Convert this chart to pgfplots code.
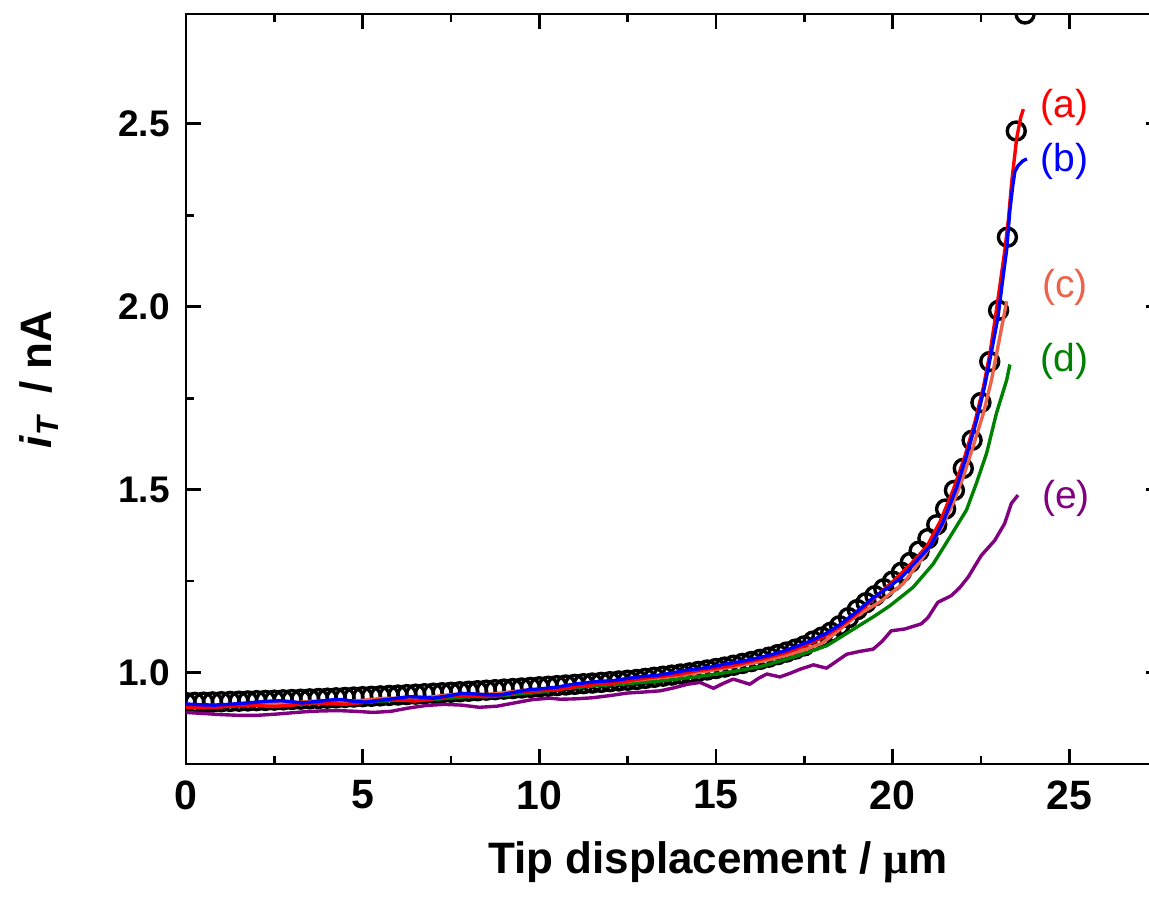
\documentclass[border=0pt]{standalone}
\usepackage{fontspec}
\setmainfont{Liberation Sans}
\newfontfamily\mufont{Liberation Serif}
\usepackage{pgfplots}
\pgfplotsset{compat=1.18}
\definecolor{cA}{RGB}{255,0,0}
\definecolor{cB}{RGB}{0,0,255}
\definecolor{cC}{RGB}{236,98,74}
\definecolor{cD}{RGB}{0,128,0}
\definecolor{cE}{RGB}{128,0,128}
\begin{document}
\begin{tikzpicture}
\begin{axis}[
  name=ax, at={(0,0)}, anchor=south west,
  scale only axis, width=487.55pt, height=375pt,
  xmin=0, xmax=27.6, ymin=0.75, ymax=2.8,
  xtick={0,5,10,15,20,25}, ytick={1.0,1.5,2.0,2.5},
  minor x tick num=1, minor y tick num=1,
  tick align=inside, major tick length=7.5pt, minor tick length=4pt,
  axis line style={line width=1.4pt},
  tick style={black, line width=1.4pt},
  /pgf/number format/assume math mode=true,
  xticklabel style={font=\fontsize{20.5}{24}\selectfont\bfseries, inner sep=0pt, yshift=-8pt},
  yticklabel style={font=\fontsize{18.5}{22}\selectfont\bfseries, inner sep=0pt, xshift=-8pt},
  y tick label style={/pgf/number format/.cd, fixed, fixed zerofill, precision=1, /tikz/.cd},
  xlabel={Tip displacement / {\mufont μ}m},
  xlabel style={font=\fontsize{22}{25}\selectfont\bfseries, at={(axis description cs:0.5456,0)}, anchor=base, yshift=-54.5pt, inner sep=0pt},
  ylabel={\textit{i}\textsubscript{\textit{T}}\hspace{0.45em}/ nA},
  ylabel style={font=\fontsize{22}{25}\selectfont\bfseries, at={(axis description cs:0,0.513)}, anchor=base, yshift=67pt, inner sep=0pt},
  clip marker paths=true,
]
% theory (open circles)
\addplot[only marks, mark=o, mark size=4.5pt, mark options={line width=1.7pt, draw=black}] coordinates {
(0,0.918) (0.25,0.9185) (0.5,0.9191) (0.75,0.9197) (1,0.9203) (1.25,0.9210) (1.5,0.9217) (1.75,0.9224)
(2,0.9231) (2.25,0.9238) (2.5,0.9246) (2.75,0.9254) (3,0.9263) (3.25,0.9271) (3.5,0.9280) (3.75,0.9290)
(4,0.9299) (4.25,0.9309) (4.5,0.9319) (4.75,0.9330) (5,0.9340) (5.25,0.9351) (5.5,0.9362) (5.75,0.9374)
(6,0.9385) (6.25,0.9397) (6.5,0.9409) (6.75,0.9422) (7,0.9435) (7.25,0.9448) (7.5,0.9461) (7.75,0.9475)
(8,0.9489) (8.25,0.9503) (8.5,0.9518) (8.75,0.9532) (9,0.9547) (9.25,0.9562) (9.5,0.9578) (9.75,0.9594)
(10,0.9610) (10.25,0.9626) (10.5,0.9643) (10.75,0.9660) (11,0.9677) (11.25,0.9695) (11.5,0.9713) (11.75,0.9731)
(12,0.9750) (12.25,0.9770) (12.5,0.979) (12.75,0.981) (13,0.984) (13.25,0.987) (13.5,0.990) (13.75,0.993)
(14,0.996) (14.25,0.999) (14.5,1.003) (14.75,1.007) (15,1.011) (15.25,1.015) (15.5,1.020) (15.75,1.025)
(16,1.030) (16.25,1.036) (16.5,1.042) (16.75,1.049) (17,1.056) (17.25,1.064) (17.5,1.073) (17.75,1.086)
(18,1.097) (18.25,1.110) (18.5,1.128) (18.75,1.150) (19,1.172) (19.25,1.191) (19.5,1.210) (19.75,1.229)
(20,1.250) (20.25,1.274) (20.5,1.301) (20.75,1.332) (21,1.366) (21.25,1.404) (21.5,1.447) (21.75,1.498)
(22,1.558) (22.25,1.635) (22.5,1.738) (22.75,1.850) (23,1.990) (23.25,2.190) (23.5,2.480) (23.75,2.800)
};
% (e) purple
\addplot[cE, line width=1.7pt, line join=round] coordinates {
(0,0.891) (0.5,0.888) (1.0,0.885) (1.5,0.883) (2.0,0.883) (2.5,0.886) (3.0,0.890) (3.4,0.893)
(3.8,0.895) (4.3,0.896) (4.8,0.894) (5.3,0.891) (5.8,0.894) (6.3,0.903) (6.8,0.910) (7.3,0.913)
(7.8,0.911) (8.3,0.905) (8.8,0.908) (9.3,0.917) (9.8,0.926) (10.3,0.930) (10.6,0.927) (11.0,0.928)
(11.5,0.931) (12.0,0.937) (12.5,0.944) (13.0,0.947) (13.42,0.950) (13.8,0.958) (14.2,0.968) (14.55,0.973)
(14.93,0.957) (15.2,0.970) (15.49,0.982) (15.96,0.968) (16.2,0.984) (16.44,0.996) (16.81,0.988) (17.1,0.998)
(17.38,1.009) (17.76,1.021) (18.13,1.012) (18.4,1.030) (18.70,1.050) (19.08,1.058) (19.45,1.064) (19.7,1.085)
(19.96,1.114) (20.34,1.119) (20.81,1.133) (21.0,1.150) (21.28,1.192) (21.66,1.210) (21.9,1.232) (22.14,1.261)
(22.51,1.320) (22.89,1.361) (23.17,1.407) (23.36,1.462) (23.55,1.485)
};
% (d) green
\addplot[cD, line width=1.7pt, line join=round] coordinates {
(0,0.907) (0.5,0.906) (1,0.907) (1.5,0.909) (2,0.911) (2.5,0.911) (3,0.912) (3.5,0.915)
(4,0.917) (4.5,0.917) (5,0.918) (5.5,0.922) (6,0.924) (6.5,0.924) (7,0.926) (7.5,0.931)
(8,0.934) (8.5,0.934) (9,0.937) (9.5,0.943) (10,0.946) (10.59,0.955) (11.5,0.963) (12.5,0.970)
(13.42,0.977) (14.5,0.989) (15.5,1.003) (16.25,1.016) (17.19,1.042) (18.13,1.073) (18.5,1.095) (19.0,1.125)
(19.5,1.155) (19.93,1.183) (20.58,1.233) (21.15,1.297) (21.62,1.370) (22.09,1.444) (22.37,1.517) (22.66,1.599)
(22.94,1.709) (23.23,1.800) (23.32,1.842)
};
% (c) salmon
\addplot[cC, line width=1.7pt, line join=round] coordinates {
(0,0.910) (0.5,0.909) (1,0.911) (1.5,0.914) (2,0.915) (2.5,0.914) (3,0.917) (3.5,0.921)
(4,0.921) (4.5,0.920) (5,0.924) (5.5,0.929) (6,0.930) (6.5,0.929) (7,0.934) (7.5,0.940)
(8,0.941) (8.5,0.940) (9,0.945) (9.5,0.951) (10,0.953) (10.5,0.957) (11,0.963) (11.5,0.967)
(12,0.971) (12.5,0.976) (13,0.982) (13.5,0.987) (14,0.993) (14.5,1.000) (15,1.008) (15.5,1.016)
(16,1.025) (16.5,1.035) (17,1.047) (17.5,1.062) (18,1.080) (18.51,1.118) (18.98,1.155) (19.64,1.193)
(20.30,1.243) (20.87,1.316) (21.34,1.389) (21.71,1.462) (22.00,1.535) (22.28,1.618) (22.57,1.709) (22.80,1.800)
(23.0,1.900) (23.23,2.015)
};
% (a) red
\addplot[cA, line width=1.7pt, line join=round] coordinates {
(0,0.905) (0.5,0.904) (1.0,0.906) (1.5,0.910) (2.0,0.910) (2.5,0.907) (3.0,0.911) (3.5,0.917)
(4.0,0.916) (4.5,0.913) (5.0,0.918) (5.5,0.925) (6.0,0.925) (6.5,0.922) (7.0,0.928) (7.5,0.936)
(8.0,0.936) (8.5,0.934) (9.0,0.940) (9.5,0.948) (10.0,0.950) (10.5,0.953) (11.0,0.961) (11.5,0.967)
(12.0,0.970) (12.5,0.977) (13.0,0.985) (13.5,0.990) (14.0,0.996) (14.5,1.006) (15.0,1.012) (15.5,1.020)
(16.0,1.031) (16.5,1.042) (17.0,1.055) (17.5,1.073) (18.0,1.095) (18.5,1.125) (19.0,1.162) (19.5,1.205)
(20.0,1.248) (20.5,1.295) (20.97,1.345) (21.34,1.412) (21.72,1.500) (22.05,1.592) (22.33,1.685) (22.57,1.780)
(22.76,1.875) (22.90,1.965) (23.04,2.060) (23.18,2.157) (23.28,2.240) (23.37,2.340) (23.51,2.459) (23.62,2.515)
(23.70,2.540)
};
% (b) blue
\addplot[cB, line width=1.7pt, line join=round] coordinates {
(0,0.914) (0.4,0.912) (0.8,0.911) (1.2,0.913) (1.6,0.916) (2.0,0.919) (2.4,0.922) (2.7,0.923)
(3.0,0.920) (3.3,0.917) (3.7,0.921) (4.1,0.925) (4.4,0.926) (4.8,0.921) (5.1,0.919) (5.5,0.924)
(5.9,0.929) (6.3,0.934) (6.6,0.933) (7.0,0.930) (7.4,0.936) (7.8,0.943) (8.1,0.942) (8.5,0.939)
(8.9,0.939) (9.3,0.946) (9.7,0.953) (10.1,0.956) (10.5,0.960) (10.9,0.967) (11.3,0.972) (11.7,0.976)
(12.1,0.978) (12.5,0.984) (12.9,0.989) (13.3,0.992) (13.7,0.998) (14.1,1.005) (14.5,1.010) (14.9,1.016)
(15.3,1.024) (15.7,1.030) (16.1,1.038) (16.5,1.047) (16.9,1.058) (17.3,1.072) (17.7,1.087) (18.1,1.106)
(18.5,1.130) (18.98,1.166) (19.45,1.204) (19.93,1.236) (20.3,1.265) (20.59,1.296) (21.06,1.345) (21.25,1.378)
(21.43,1.412) (21.81,1.505) (22.10,1.595) (22.38,1.690) (22.61,1.785) (22.80,1.878) (22.98,1.970) (23.13,2.084)
(23.23,2.157) (23.32,2.264) (23.40,2.330) (23.46,2.369) (23.55,2.385) (23.68,2.398) (23.80,2.404)
};
\node[anchor=west, inner sep=0pt, text=cA, font=\fontsize{19.5}{22}\selectfont] at (axis cs:24.17,2.544) {(a)};
\node[anchor=west, inner sep=0pt, text=cB, font=\fontsize{19.5}{22}\selectfont] at (axis cs:24.17,2.398) {(b)};
\node[anchor=west, inner sep=0pt, text=cC, font=\fontsize{19.5}{22}\selectfont] at (axis cs:24.22,2.053) {(c)};
\node[anchor=west, inner sep=0pt, text=cD, font=\fontsize{19.5}{22}\selectfont] at (axis cs:24.17,1.850) {(d)};
\node[anchor=west, inner sep=0pt, text=cE, font=\fontsize{19.5}{22}\selectfont] at (axis cs:24.22,1.476) {(e)};
\end{axis}
\pgfresetboundingbox
\useasboundingbox ([shift={(-93pt,-68pt)}]ax.south west) rectangle ([shift={(481.5pt,382pt)}]ax.south west);
\end{tikzpicture}
\end{document}
